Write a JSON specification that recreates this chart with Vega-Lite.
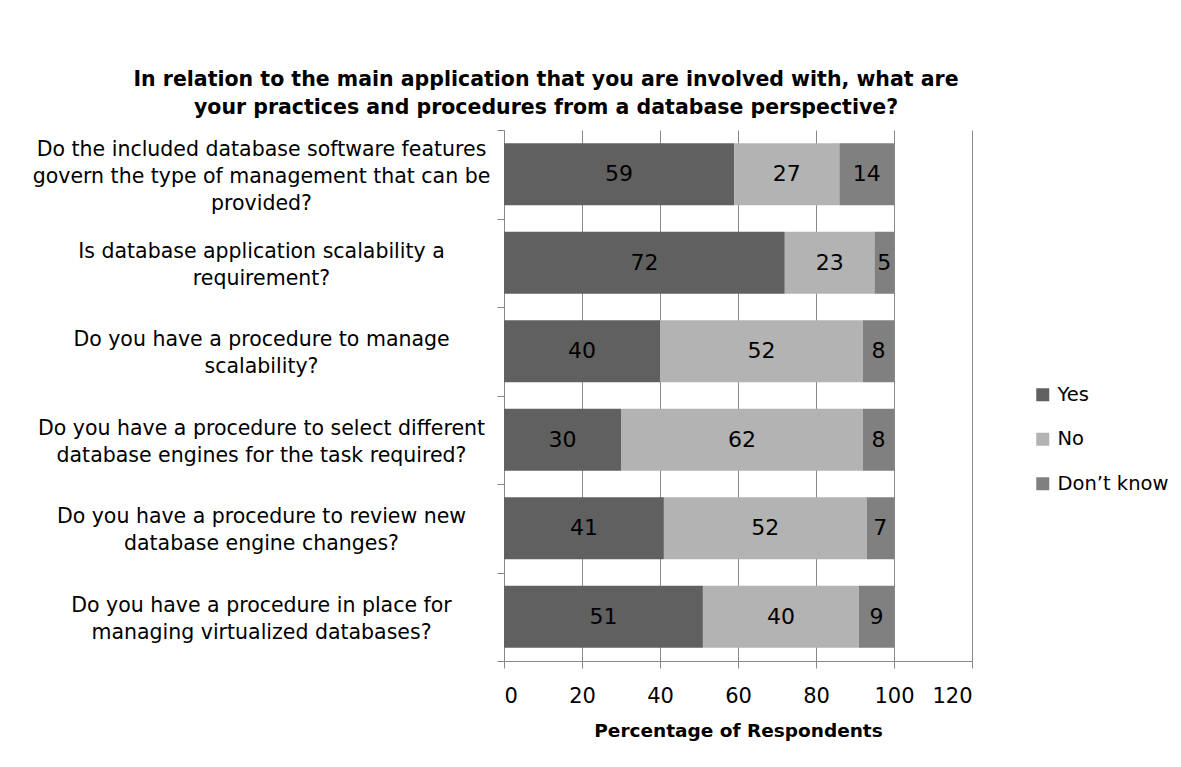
{
  "$schema": "https://vega.github.io/schema/vega-lite/v6.json",
  "autosize": "none",
  "width": 468,
  "height": 531,
  "padding": {"left": 504, "top": 130, "right": 209, "bottom": 106},
  "background": "white",
  "title": {
    "text": ["In relation to the main application that you are involved with, what are", "your practices and procedures from a database perspective?"],
    "font": "DejaVu Sans",
    "fontWeight": "bold",
    "fontSize": 20.5,
    "lineHeight": 28,
    "color": "black",
    "anchor": "middle",
    "dx": -192,
    "offset": 2
  },
  "data": {
    "values": [
      {"q": "Do the included database software features|govern the type of management that can be|provided?", "series": "Yes", "pct": 59},
      {"q": "Do the included database software features|govern the type of management that can be|provided?", "series": "No", "pct": 27},
      {"q": "Do the included database software features|govern the type of management that can be|provided?", "series": "Don’t know", "pct": 14},
      {"q": "Is database application scalability a|requirement?", "series": "Yes", "pct": 72},
      {"q": "Is database application scalability a|requirement?", "series": "No", "pct": 23},
      {"q": "Is database application scalability a|requirement?", "series": "Don’t know", "pct": 5},
      {"q": "Do you have a procedure to manage|scalability?", "series": "Yes", "pct": 40},
      {"q": "Do you have a procedure to manage|scalability?", "series": "No", "pct": 52},
      {"q": "Do you have a procedure to manage|scalability?", "series": "Don’t know", "pct": 8},
      {"q": "Do you have a procedure to select different|database engines for the task required?", "series": "Yes", "pct": 30},
      {"q": "Do you have a procedure to select different|database engines for the task required?", "series": "No", "pct": 62},
      {"q": "Do you have a procedure to select different|database engines for the task required?", "series": "Don’t know", "pct": 8},
      {"q": "Do you have a procedure to review new|database engine changes?", "series": "Yes", "pct": 41},
      {"q": "Do you have a procedure to review new|database engine changes?", "series": "No", "pct": 52},
      {"q": "Do you have a procedure to review new|database engine changes?", "series": "Don’t know", "pct": 7},
      {"q": "Do you have a procedure in place for|managing virtualized databases?", "series": "Yes", "pct": 51},
      {"q": "Do you have a procedure in place for|managing virtualized databases?", "series": "No", "pct": 40},
      {"q": "Do you have a procedure in place for|managing virtualized databases?", "series": "Don’t know", "pct": 9}
    ]
  },
  "transform": [
    {"stack": "pct", "groupby": ["q"], "sort": [{"field": "series", "order": "descending"}], "as": ["x0", "x1"]},
    {"calculate": "(datum.x0 + datum.x1) / 2", "as": "mid"}
  ],
  "encoding": {
    "y": {
      "field": "q",
      "type": "nominal",
      "sort": null,
      "scale": {"paddingInner": 0, "paddingOuter": 0},
      "axis": {
        "title": null,
        "domainColor": "#888888",
        "tickColor": "#888888",
        "tickSize": 7,
        "tickBand": "extent",
        "grid": false,
        "labelFont": "DejaVu Sans",
        "labelFontSize": 20.5,
        "labelColor": "black",
        "labelAlign": "center",
        "labelBaseline": "middle",
        "labelPadding": 236,
        "labelLineHeight": 27,
        "labelLimit": 0,
        "labelExpr": "split(datum.label, '|')",
        "labelOffset": {"condition": {"test": "length(split(datum.value, '|')) == 3", "value": -25}, "value": -11.5}
      }
    }
  },
  "layer": [
    {
      "mark": {"type": "bar", "height": {"band": 0.7}},
      "encoding": {
        "x": {
          "field": "x0",
          "type": "quantitative",
          "scale": {"domain": [0, 120], "nice": false},
          "axis": {
            "title": "Percentage of Respondents",
            "titleFont": "DejaVu Sans",
            "titleFontWeight": "bold",
            "titleFontSize": 18.5,
            "titleColor": "black",
            "titlePadding": 15,
            "values": [0, 20, 40, 60, 80, 100, 120],
            "grid": true,
            "gridColor": "#888888",
            "domainColor": "#888888",
            "tickColor": "#888888",
            "tickSize": 7,
            "labelFont": "DejaVu Sans",
            "labelFontSize": 21,
            "labelColor": "black",
            "labelPadding": 17
          }
        },
        "x2": {"field": "x1"},
        "color": {
          "field": "series",
          "type": "nominal",
          "scale": {"domain": ["Yes", "No", "Don’t know"], "range": ["#606060", "#b3b3b3", "#808080"]},
          "legend": {
            "title": null,
            "orient": "none",
            "legendX": 529,
            "legendY": 255,
            "symbolType": "square",
            "symbolSize": 169,
            "symbolStrokeWidth": 0,
            "labelFont": "DejaVu Sans",
            "labelFontSize": 19.5,
            "labelColor": "black",
            "labelOffset": 5,
            "rowPadding": 23.5,
            "padding": 0
          }
        }
      }
    },
    {
      "mark": {"type": "text", "font": "DejaVu Sans", "fontSize": 22, "color": "black", "baseline": "middle", "align": "center"},
      "encoding": {
        "x": {"field": "mid", "type": "quantitative"},
        "text": {"field": "pct", "type": "quantitative"}
      }
    }
  ],
  "config": {"view": {"stroke": null}}
}
